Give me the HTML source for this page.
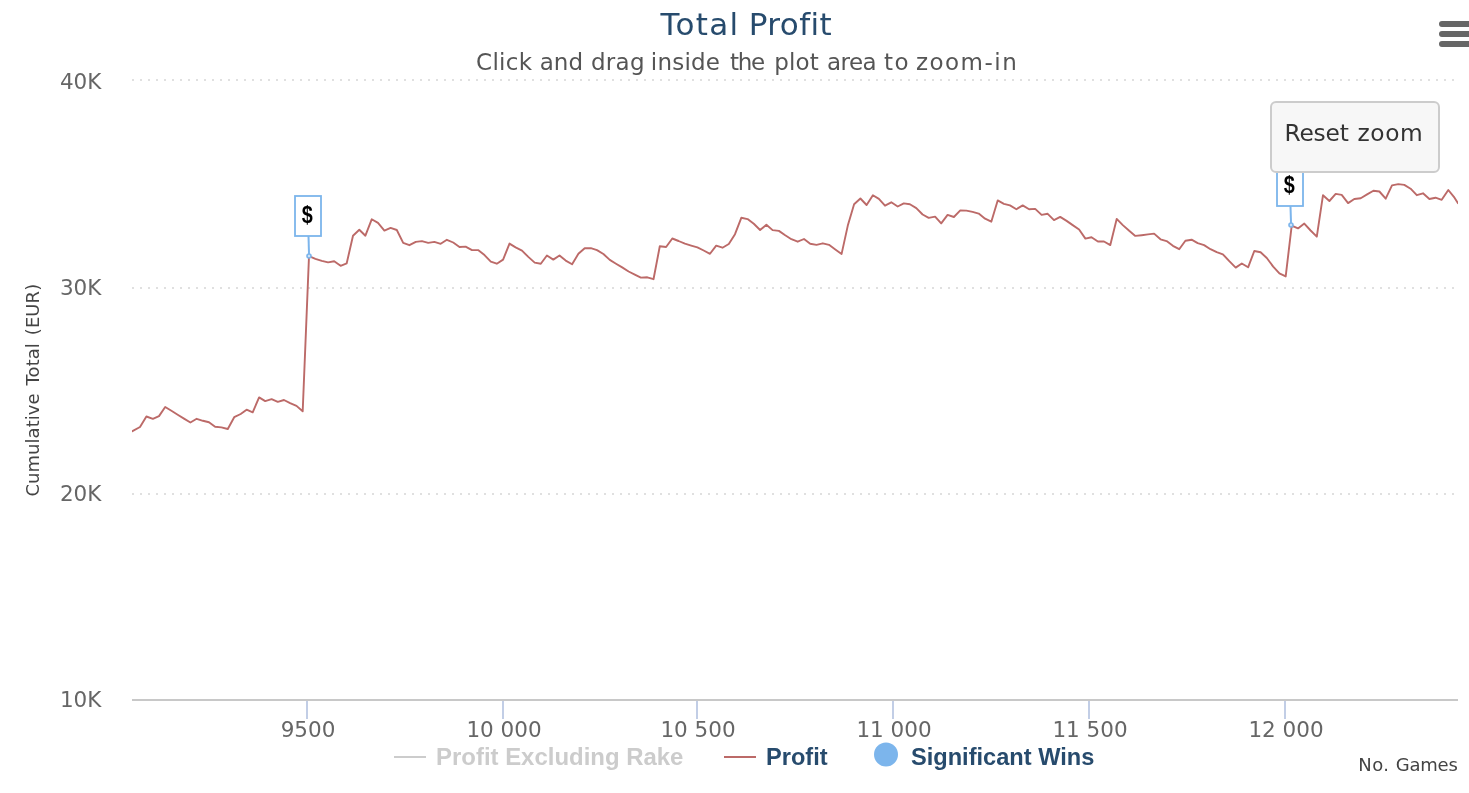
<!DOCTYPE html>
<html>
<head>
<meta charset="utf-8">
<title>Total Profit</title>
<style>
html,body{margin:0;padding:0;background:#fff;overflow:hidden;}
svg{display:block;}
text{font-family:'DejaVu Sans','Liberation Sans',sans-serif;}
</style>
</head>
<body>
<svg width="1469" height="793" viewBox="0 0 1469 793">
<rect x="0" y="0" width="1469" height="793" fill="#FFFFFF"/>
<!-- grid lines -->
<path d="M 132 80 L 1458 80" stroke="#E0E0E0" stroke-width="2" stroke-dasharray="2,6" fill="none"/>
<path d="M 132 288 L 1458 288" stroke="#E0E0E0" stroke-width="2" stroke-dasharray="2,6" fill="none"/>
<path d="M 132 494 L 1458 494" stroke="#E0E0E0" stroke-width="2" stroke-dasharray="2,6" fill="none"/>

<!-- x axis -->
<path d="M 132 700 L 1458 700" stroke="#C8C8C8" stroke-width="2" fill="none"/>
<path d="M 307 701 L 307 719" stroke="#C2CEE6" stroke-width="2" fill="none"/>
<path d="M 503 701 L 503 719" stroke="#C2CEE6" stroke-width="2" fill="none"/>
<path d="M 697 701 L 697 719" stroke="#C2CEE6" stroke-width="2" fill="none"/>
<path d="M 893 701 L 893 719" stroke="#C2CEE6" stroke-width="2" fill="none"/>
<path d="M 1089 701 L 1089 719" stroke="#C2CEE6" stroke-width="2" fill="none"/>
<path d="M 1285 701 L 1285 719" stroke="#C2CEE6" stroke-width="2" fill="none"/>

<!-- series -->
<clipPath id="plotclip"><rect x="132" y="80" width="1326" height="620"/></clipPath>
<g clip-path="url(#plotclip)">
<path d="M 132.0 431.3 L 140.0 427.0 L 146.4 416.5 L 152.9 418.8 L 159.0 416.1 L 165.2 407.0 L 171.4 410.8 L 177.7 414.7 L 184.0 418.6 L 190.4 422.5 L 196.7 418.8 L 202.9 420.8 L 209.0 422.2 L 215.1 426.7 L 221.4 427.4 L 227.8 429.0 L 234.2 417.2 L 240.7 414.0 L 246.6 409.7 L 252.7 412.3 L 259.1 397.4 L 265.2 401.1 L 271.6 399.1 L 277.8 401.8 L 284.0 400.0 L 290.1 403.1 L 296.5 405.9 L 302.7 411.3 L 309.0 256.1 L 315.4 258.8 L 321.8 260.9 L 328.1 262.4 L 334.2 261.3 L 340.6 265.8 L 346.7 263.3 L 353.0 235.7 L 359.3 229.7 L 365.4 235.7 L 371.7 219.3 L 378.0 222.9 L 384.4 230.6 L 390.6 227.9 L 396.8 230.0 L 403.2 242.9 L 409.4 245.2 L 415.8 241.9 L 421.9 241.1 L 428.2 242.9 L 434.4 241.9 L 440.7 243.8 L 446.9 239.8 L 453.2 242.5 L 459.5 247.0 L 465.6 246.6 L 472.0 250.1 L 478.1 250.1 L 484.5 255.1 L 490.8 261.7 L 496.8 263.7 L 503.1 259.6 L 509.5 243.6 L 515.6 247.4 L 522.0 250.6 L 528.3 256.9 L 534.7 262.6 L 540.8 263.7 L 546.9 255.5 L 553.3 259.6 L 559.5 255.5 L 565.7 260.6 L 572.1 264.3 L 578.4 253.8 L 584.7 248.2 L 590.9 248.2 L 597.0 250.1 L 603.4 254.0 L 609.8 259.9 L 616.0 263.7 L 622.2 267.4 L 628.6 271.5 L 634.8 274.6 L 640.9 277.6 L 647.3 277.3 L 653.5 279.2 L 659.8 246.3 L 666.1 247.0 L 672.3 238.5 L 678.6 241.0 L 684.9 243.7 L 691.2 245.6 L 697.4 247.4 L 703.7 250.5 L 710.0 253.8 L 716.2 245.6 L 722.5 247.7 L 728.8 244.0 L 735.0 234.2 L 741.3 217.8 L 747.6 219.1 L 753.8 223.8 L 760.1 230.0 L 766.4 224.7 L 772.6 230.1 L 778.9 230.9 L 785.2 235.3 L 791.4 239.2 L 797.7 241.7 L 804.0 239.0 L 810.2 243.7 L 816.5 244.9 L 822.8 243.3 L 829.0 244.8 L 835.3 249.4 L 841.6 253.9 L 847.8 225.6 L 854.1 204.2 L 860.4 198.5 L 866.6 205.0 L 872.9 195.2 L 878.9 198.9 L 885.0 205.7 L 891.3 202.3 L 897.7 206.5 L 903.8 203.4 L 909.9 204.3 L 916.3 208.1 L 922.6 214.5 L 928.7 217.9 L 935.1 216.6 L 941.2 223.4 L 947.6 214.9 L 953.9 217.0 L 960.3 210.4 L 966.4 210.6 L 972.6 211.9 L 978.7 213.6 L 985.1 218.7 L 991.3 221.7 L 997.7 200.4 L 1003.9 203.8 L 1010.0 205.4 L 1016.4 209.2 L 1022.7 205.4 L 1029.1 209.2 L 1035.2 208.9 L 1041.6 214.9 L 1047.7 213.8 L 1054.0 220.1 L 1060.2 216.9 L 1066.6 220.9 L 1072.7 225.1 L 1079.1 229.5 L 1085.4 238.6 L 1091.5 237.2 L 1097.9 241.5 L 1104.0 241.5 L 1110.3 245.1 L 1116.7 218.9 L 1122.8 225.1 L 1129.2 230.8 L 1135.3 235.9 L 1141.7 235.2 L 1148.0 234.4 L 1154.1 233.6 L 1160.5 239.3 L 1166.6 241.1 L 1172.9 245.8 L 1179.2 249.2 L 1185.4 240.8 L 1191.6 239.7 L 1197.7 243.1 L 1204.1 245.1 L 1210.5 249.2 L 1216.7 252.2 L 1222.9 254.3 L 1229.3 261.2 L 1235.7 267.6 L 1241.8 263.5 L 1248.1 267.3 L 1254.3 251.0 L 1260.6 252.3 L 1266.8 258.0 L 1273.2 266.6 L 1279.4 273.4 L 1285.7 276.4 L 1291.7 225.6 L 1298.0 228.4 L 1304.3 223.6 L 1310.6 230.5 L 1316.8 236.7 L 1323.0 195.2 L 1329.4 201.0 L 1335.7 193.9 L 1341.7 194.9 L 1348.1 203.1 L 1354.3 199.0 L 1360.7 198.2 L 1367.1 194.4 L 1373.4 190.7 L 1379.4 191.5 L 1385.7 198.7 L 1392.0 185.4 L 1398.3 184.1 L 1404.3 184.9 L 1410.6 188.7 L 1416.8 195.2 L 1423.0 193.3 L 1429.4 199.0 L 1435.5 197.7 L 1441.7 199.8 L 1448.3 190.0 L 1454.5 197.7 L 1458.0 203.3" fill="none" stroke="#BC6A68" stroke-width="1.9" stroke-linejoin="round" stroke-linecap="round"/>
</g>
<!-- flags -->
<g>
<path d="M 308.5 236 L 309 254" stroke="#7CB5EC" stroke-width="2" fill="none"/>
<rect x="295" y="196" width="26" height="40" fill="#FFFFFF" stroke="#7CB5EC" stroke-width="1.8"/>
<circle cx="309" cy="256" r="2" fill="#CFE3F7" stroke="#7CB5EC" stroke-width="1.6"/>
<text transform="translate(307.2,223.2) scale(0.9,1.07)" x="0" y="0" text-anchor="middle" style="font-family:'Liberation Sans','DejaVu Sans',sans-serif" font-weight="bold" font-size="22px" fill="#000">$</text>
</g>

<g>
<path d="M 1290.5 206 L 1291 223" stroke="#7CB5EC" stroke-width="2" fill="none"/>
<rect x="1277" y="166" width="26" height="40" fill="#FFFFFF" stroke="#7CB5EC" stroke-width="1.8"/>
<circle cx="1291" cy="225" r="2" fill="#CFE3F7" stroke="#7CB5EC" stroke-width="1.6"/>
<text transform="translate(1289.2,193.2) scale(0.9,1.07)" x="0" y="0" text-anchor="middle" style="font-family:'Liberation Sans','DejaVu Sans',sans-serif" font-weight="bold" font-size="22px" fill="#000">$</text>
</g>

<!-- title -->
<text y="34.7" font-size="31px" fill="#274B6D" ><tspan x="660.60" letter-spacing="1.280">Total </tspan><tspan x="748.80" letter-spacing="0.416">Profit</tspan></text>
<text y="70" font-size="23px" fill="#555555" ><tspan x="476.10" letter-spacing="0.280">Click </tspan><tspan x="539.70" letter-spacing="0.080">and </tspan><tspan x="591.00" letter-spacing="0.267">drag </tspan><tspan x="650.80" letter-spacing="0.224">inside </tspan><tspan x="730.00" letter-spacing="-1.280">the </tspan><tspan x="774.20" letter-spacing="0.160">plot </tspan><tspan x="827.00" letter-spacing="-0.533">area </tspan><tspan x="884.00" letter-spacing="1.440">to </tspan><tspan x="915.90" letter-spacing="1.493">zoom-in</tspan></text>
<!-- axis labels -->
<g font-size="21.5px" fill="#666666">
<text x="308" y="737" text-anchor="middle">9500</text>
<text x="504" y="737" text-anchor="middle">10 000</text>
<text x="698" y="737" text-anchor="middle">10 500</text>
<text x="894" y="737" text-anchor="middle">11 000</text>
<text x="1090" y="737" text-anchor="middle">11 500</text>
<text x="1286" y="737" text-anchor="middle">12 000</text>

<text x="101.4" y="88.8" text-anchor="end">40K</text>
<text x="101.4" y="294.9" text-anchor="end">30K</text>
<text x="101.4" y="500.9" text-anchor="end">20K</text>
<text x="101.4" y="707" text-anchor="end">10K</text>

</g>
<!-- axis titles -->
<text transform="translate(39.3,390.2) rotate(-90)" text-anchor="middle" font-size="18px" letter-spacing="0.05" word-spacing="2.2" fill="#444444" style="font-family:'DejaVu Sans','Liberation Sans',sans-serif">Cumulative Total (EUR)</text>
<text y="770.8" font-size="18px" fill="#444444" ><tspan x="1358.30" letter-spacing="0.400">No. </tspan><tspan x="1395.70" letter-spacing="-0.200">Games</tspan></text>
<!-- legend -->
<g font-size="23.6px" font-weight="bold" style="font-family:'Liberation Sans','DejaVu Sans',sans-serif">
<path d="M 394 757 L 426 757" stroke="#CCCCCC" stroke-width="2" fill="none"/>
<text x="436" y="765" fill="#CCCCCC" font-size="23.95px" style="font-family:'Liberation Sans','DejaVu Sans',sans-serif">Profit Excluding Rake</text>
<path d="M 724 757 L 756 757" stroke="#BC6A68" stroke-width="2" fill="none"/>
<text x="766" y="765" fill="#274B6D" style="font-family:'Liberation Sans','DejaVu Sans',sans-serif">Profit</text>
<circle cx="886" cy="754.5" r="12" fill="#7CB5EC"/>
<text x="911" y="765" fill="#274B6D" style="font-family:'Liberation Sans','DejaVu Sans',sans-serif">Significant Wins</text>
</g>
<!-- reset zoom button -->
<rect x="1271" y="102" width="168" height="70" rx="5" ry="5" fill="#F7F7F7" stroke="#CCCCCC" stroke-width="2"/>
<text y="141" font-size="23.3px" fill="#333333" ><tspan x="1284.50" letter-spacing="-0.200">Reset </tspan><tspan x="1357.50" letter-spacing="0.587">zoom</tspan></text>
<!-- export menu -->
<path d="M 1442 24 L 1480 24 M 1442 34 L 1480 34 M 1442 44 L 1480 44" stroke="#666666" stroke-width="6" stroke-linecap="round" fill="none"/>
</svg>
</body>
</html>
